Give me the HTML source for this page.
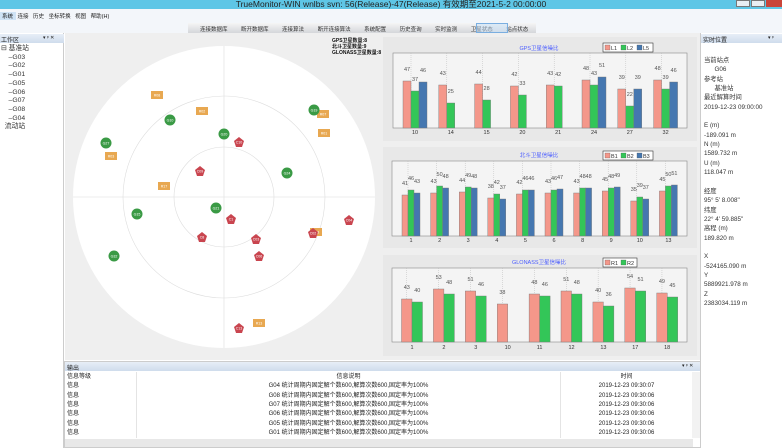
<!DOCTYPE html><html><head><meta charset="utf-8"><style>
*{margin:0;padding:0;box-sizing:border-box}
body{width:782px;height:448px;overflow:hidden;background:#fff;font-family:"Liberation Sans","Noto Sans CJK SC",sans-serif;font-size:6px;color:#222;position:relative}
.a{position:absolute;white-space:nowrap}
</style></head><body>
<div class="a" style="left:0;top:0;width:782px;height:9px;background:#5ec6e6"></div>
<div class="a" style="left:0;top:-2px;width:782px;text-align:center;font-size:8.5px;color:#222">TrueMonitor-WIN wnlbs  svn: 56(Release)-47(Release)   有效期至2021-5-2  00:00:00</div>
<div class="a" style="left:736px;top:0;width:14px;height:7px;background:#e8eef3;border:1px solid #777"></div>
<div class="a" style="left:751px;top:0;width:14px;height:7px;background:#e8eef3;border:1px solid #777"></div>
<div class="a" style="left:766px;top:0;width:16px;height:7px;background:#c9453a"></div>
<div class="a" style="left:0;top:9px;width:782px;height:14px;background:#f3f6fa"></div>
<div class="a" style="left:0;top:12px;width:16px;height:8px;background:#cfe3f5"></div>
<div class="a" style="left:2px;top:12px;font-size:5.5px;word-spacing:3px">系统 连接 历史 坐标转换 视图 帮助(H)</div>
<div class="a" style="left:0;top:23px;width:782px;height:10px;background:#f3f6fa"></div>
<div class="a" style="left:188px;top:23px;width:348px;height:10px;background:linear-gradient(#f5f5f5,#d4d6da)"></div>
<div class="a" style="left:200px;top:25px;font-size:5.5px;color:#333;word-spacing:12px">连接数据库 断开数据库 连接算法 断开连接算法 系统配置 历史查询 实时监测 卫星状态 站点状态</div>
<div class="a" style="left:476px;top:23px;width:32px;height:10px;border:1px solid #7aaee0;background:rgba(200,225,250,.5)"></div>
<div class="a" style="left:0;top:33px;width:64px;height:415px;background:#fff;border-right:1px solid #ccc"></div>
<div class="a" style="left:0;top:34px;width:64px;height:9px;background:linear-gradient(#e7eef7,#cfdcec)"></div>
<div class="a" style="left:1px;top:35px;font-size:6px">工作区</div><div class="a" style="left:43px;top:35px;font-size:5px">▾ ᵖ ✕</div>
<div class="a" style="left:1px;top:45px;font-size:6.8px;line-height:8.7px;color:#333">⊟ 基准站<br>&nbsp;&nbsp;&nbsp;&nbsp;–G03<br>&nbsp;&nbsp;&nbsp;&nbsp;–G02<br>&nbsp;&nbsp;&nbsp;&nbsp;–G01<br>&nbsp;&nbsp;&nbsp;&nbsp;–G05<br>&nbsp;&nbsp;&nbsp;&nbsp;–G06<br>&nbsp;&nbsp;&nbsp;&nbsp;–G07<br>&nbsp;&nbsp;&nbsp;&nbsp;–G08<br>&nbsp;&nbsp;&nbsp;&nbsp;–G04<br>&nbsp;&nbsp;流动站</div>
<div class="a" style="left:65px;top:33px;width:635px;height:327px;background:#efefef"></div>
<svg class="a" style="left:0;top:0" width="782" height="448" font-family="Liberation Sans,Noto Sans CJK SC,sans-serif">
<defs><clipPath id="cp"><rect x="65" y="33" width="315" height="327"/></clipPath></defs>
<g clip-path="url(#cp)">
<circle cx="224" cy="197" r="151" fill="#fff"/>
<circle cx="224" cy="197" r="101" fill="none" stroke="#ddd" stroke-width=".6"/>
<circle cx="224" cy="197" r="50" fill="none" stroke="#ddd" stroke-width=".6"/>
<line x1="224" y1="46" x2="224" y2="348" stroke="#ddd" stroke-width=".6"/>
<line x1="73" y1="197" x2="375" y2="197" stroke="#ddd" stroke-width=".6"/>
</g>
<g font-size="5" font-weight="bold" fill="#111"><text x="332" y="42">GPS卫星数量:8</text><text x="332" y="48">北斗卫星数量:9</text><text x="332" y="54">GLONASS卫星数量:8</text></g>
<g id="sats"></g>
<g fill="#e8e8e8"><rect x="383" y="37" width="314" height="104"/><rect x="383" y="147" width="314" height="101"/><rect x="383" y="255" width="314" height="101"/></g>
<g fill="#f4f4f4" stroke="#888" stroke-width=".6"><rect x="393" y="53" width="294" height="75"/><rect x="392" y="161" width="295" height="75"/><rect x="392" y="268" width="295" height="74"/></g>
<g id="bars"></g>
<g font-size="5.5" fill="#4a5cff" text-anchor="middle"><text x="539" y="50">GPS卫星信噪比</text><text x="539" y="157">北斗卫星信噪比</text><text x="539" y="264">GLONASS卫星信噪比</text></g>
</svg>
<div class="a" style="left:700px;top:33px;width:82px;height:415px;background:#fff;border-left:1px solid #ccc"></div>
<div class="a" style="left:701px;top:34px;width:81px;height:9px;background:linear-gradient(#e7eef7,#cfdcec)"></div>
<div class="a" style="left:703px;top:35px;font-size:6px">实时位置</div><div class="a" style="left:768px;top:35px;font-size:5px">▾ ᵖ</div>
<div class="a" style="left:704px;top:56px;font-size:6.3px;line-height:9.35px;color:#333">当前站点<br>&nbsp;&nbsp;&nbsp;&nbsp;&nbsp;&nbsp;G06<br>参考站<br>&nbsp;&nbsp;&nbsp;&nbsp;&nbsp;&nbsp;基准站<br>最近解算时间<br>2019-12-23 09:00:00<br><br>E (m)<br>-189.091 m<br>N (m)<br>1589.732 m<br>U (m)<br>118.047 m<br><br>经度<br>95° 5' 8.008"<br>纬度<br>22° 4' 59.885"<br>高程 (m)<br>189.820 m<br><br>X<br>-524165.090 m<br>Y<br>5889921.978 m<br>Z<br>2383034.119 m</div>
<div class="a" style="left:64px;top:361px;width:637px;height:87px;background:#fff;border:1px solid #ccc"></div>
<div class="a" style="left:65px;top:362px;width:635px;height:9px;background:linear-gradient(#e7eef7,#cfdcec)"></div>
<div class="a" style="left:67px;top:363px;font-size:6px">输出</div><div class="a" style="left:682px;top:363px;font-size:5px">▾ ᵖ ✕</div>
<div class="a" style="left:136px;top:372px;width:1px;height:66px;background:#e4e4e4"></div>
<div class="a" style="left:560px;top:372px;width:1px;height:66px;background:#e4e4e4"></div>
<div class="a" style="left:692px;top:372px;width:8px;height:66px;background:#f2f2f2"></div>
<div class="a" style="left:65px;top:439px;width:628px;height:8px;background:#e8e8e8"></div>
<div class="a" style="left:67px;top:373px;font-size:6px;line-height:9.35px">信息等级<br>信息<br>信息<br>信息<br>信息<br>信息<br>信息</div>
<div class="a" style="left:137px;top:373px;width:423px;text-align:center;font-size:6px;line-height:9.35px">信息说明<br>G04 统计周期内固定解个数600,解算次数600,固定率为100%<br>G08 统计周期内固定解个数600,解算次数600,固定率为100%<br>G07 统计周期内固定解个数600,解算次数600,固定率为100%<br>G06 统计周期内固定解个数600,解算次数600,固定率为100%<br>G05 统计周期内固定解个数600,解算次数600,固定率为100%<br>G01 统计周期内固定解个数600,解算次数600,固定率为100%</div>
<div class="a" style="left:561px;top:373px;width:131px;text-align:center;font-size:6px;line-height:9.35px">时间<br>2019-12-23 09:30:07<br>2019-12-23 09:30:06<br>2019-12-23 09:30:06<br>2019-12-23 09:30:06<br>2019-12-23 09:30:06<br>2019-12-23 09:30:06</div>
<script>
let t='';
const sq=[[157,95,'R08'],[202,111,'R02'],[323,114,'R07'],[324,133,'R01'],[111,156,'R03'],[164,186,'R17'],[316,232,'R18'],[259,323,'R13']];
const ci=[[314,110,'G19'],[170,120,'G10'],[224,134,'G20'],[106,143,'G27'],[287,173,'G24'],[216,208,'G21'],[137,214,'G15'],[114,256,'G32']];
const pe=[[239,142,'C10'],[200,171,'C09'],[231,219,'C1'],[202,237,'C8'],[256,239,'C03'],[259,256,'C06'],[349,220,'C04'],[313,233,'C02'],[239,328,'C13']];
const lab=(x,y,s)=>`<text x="${x}" y="${y+1.3}" font-size="3.6" fill="#fff" text-anchor="middle">${s}</text>`;
sq.forEach(([x,y,s])=>{t+=`<rect x="${x-6}" y="${y-4}" width="12" height="8" fill="#e8a851"/>`+lab(x,y,s)});
ci.forEach(([x,y,s])=>{t+=`<circle cx="${x}" cy="${y}" r="5.5" fill="#3a9a45"/>`+lab(x,y,s)});
pe.forEach(([x,y,s])=>{t+=`<polygon points="${x},${y-5} ${x+5},${y-1} ${x+3},${y+5} ${x-3},${y+5} ${x-5},${y-1}" fill="#c9454f"/>`+lab(x,y,s)});
document.getElementById('sats').innerHTML=t;
const C=['#f4978a','#33c658','#4577b0'];
const charts=[
{base:128,top:53,ly:134,x0:415,dx:35.8,bw:8,labs:['10','14','15','20','21','24','27','32'],v:[[47,37,46],[43,25],[44,28],[42,33],[43,42],[48,43,51],[39,22,39],[48,39,46]],leg:[603,43,['L1','L2','L5']]},
{base:236,top:161,ly:242,x0:411,dx:28.6,bw:6,labs:['1','2','3','4','5','6','8','9','10','13'],v:[[41,46,43],[43,50,48],[44,49,48],[38,42,37],[42,46,46],[43,46,47],[43,48,48],[45,48,49],[35,39,37],[45,50,51]],leg:[603,151,['B1','B2','B3']]},
{base:342,top:268,ly:349,x0:412,dx:31.9,bw:10.5,labs:['1','2','3','10','11','12','13','17','18'],v:[[43,40],[53,48],[51,46],[38],[48,46],[51,48],[40,36],[54,51],[49,45]],leg:[603,258,['R1','R2']]}];
let s='';
charts.forEach(c=>{
 c.labs.forEach((l,i)=>{
  const cx=c.x0+i*c.dx,w=c.bw;const gn=c.leg[2].length;
  s+=`<line x1="${cx-w/2}" y1="${c.top}" x2="${cx-w/2}" y2="${c.base}" stroke="#bbb" stroke-width=".5" stroke-dasharray="1,1"/>`;
  c.v[i].forEach((v,j)=>{const x=cx-gn*w/2+j*w;const y=c.base-v;
   s+=`<rect x="${x}" y="${y}" width="${w}" height="${v}" fill="${C[j]}" stroke="#777" stroke-width=".4"/>`;
   s+=`<text x="${x+w/2}" y="${y-10}" font-size="5.5" fill="#555" text-anchor="middle">${v}</text>`;});
  s+=`<text x="${cx}" y="${c.ly}" font-size="5.5" fill="#333" text-anchor="middle">${l}</text>`;
 });
 const [lx,ly,names]=c.leg;const lw=names.length*16+2;
 s+=`<rect x="${lx}" y="${ly}" width="${lw}" height="9" fill="#fff" stroke="#333" stroke-width=".6"/>`;
 names.forEach((n,j)=>{s+=`<rect x="${lx+2+j*16}" y="${ly+2}" width="5" height="5" fill="${C[j]}" stroke="#555" stroke-width=".3"/><text x="${lx+8+j*16}" y="${ly+7}" font-size="5.5" fill="#333">${n}</text>`});
});
document.getElementById('bars').innerHTML=s;
</script>
</body></html>
